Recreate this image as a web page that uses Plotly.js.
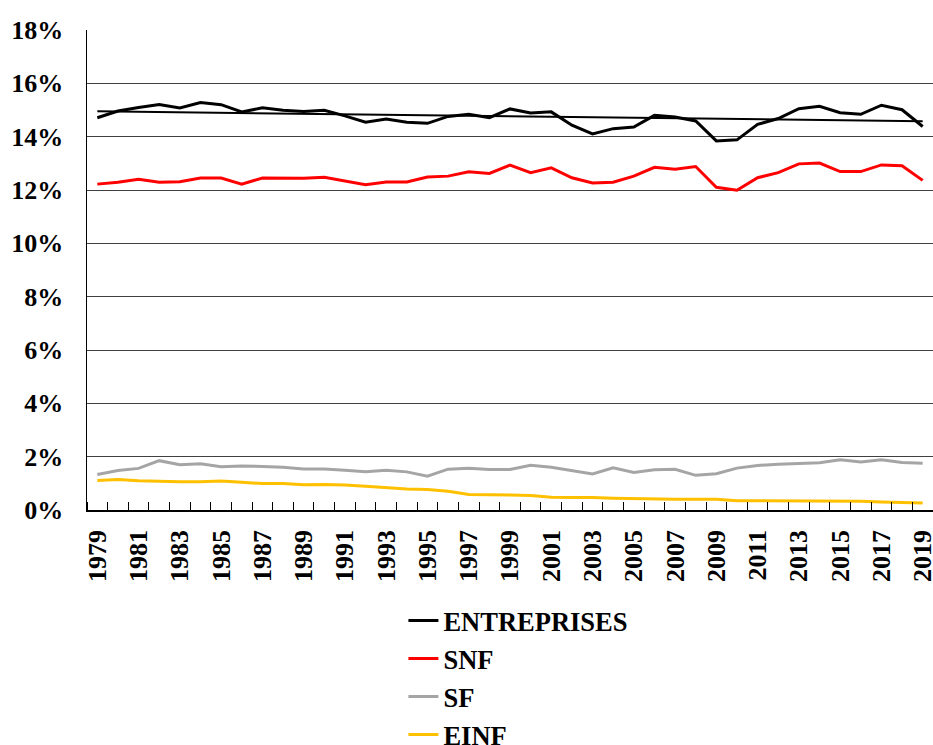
<!DOCTYPE html>
<html>
<head>
<meta charset="utf-8">
<script src="https://cdn.plot.ly/plotly-3.0.1.min.js"></script>
<style>
  html, body { margin: 0; padding: 0; background: #fff; }
  #chart { width: 933px; height: 745px; }
</style>
</head>
<body>
<div id="chart"></div>
<script>
const years = [1979,1980,1981,1982,1983,1984,1985,1986,1987,1988,1989,1990,1991,1992,1993,1994,1995,1996,1997,1998,1999,
               2000,2001,2002,2003,2004,2005,2006,2007,2008,2009,2010,2011,2012,2013,2014,2015,2016,2017,2018,2019];

const entreprises = [14.71,14.96,15.09,15.21,15.08,15.28,15.20,14.93,15.08,14.99,14.94,14.99,14.78,14.54,14.66,14.54,14.50,14.76,14.84,14.71,15.04,
                     14.89,14.93,14.43,14.10,14.30,14.36,14.80,14.74,14.59,13.84,13.88,14.46,14.68,15.05,15.14,14.90,14.84,15.18,15.01,14.38];

const snf = [12.22,12.29,12.40,12.29,12.31,12.45,12.45,12.22,12.45,12.44,12.44,12.48,12.33,12.20,12.30,12.30,12.49,12.52,12.68,12.62,12.93,
             12.65,12.83,12.46,12.26,12.29,12.52,12.85,12.78,12.88,12.10,11.99,12.46,12.65,12.98,13.01,12.69,12.69,12.94,12.91,12.36];

const sf = [1.33,1.48,1.56,1.85,1.70,1.73,1.62,1.65,1.63,1.60,1.54,1.54,1.49,1.43,1.49,1.43,1.27,1.53,1.57,1.52,1.52,
            1.68,1.60,1.48,1.35,1.58,1.41,1.51,1.53,1.30,1.36,1.57,1.67,1.72,1.74,1.77,1.88,1.80,1.88,1.78,1.75];

const einf = [1.11,1.14,1.10,1.07,1.06,1.06,1.09,1.04,0.99,0.99,0.95,0.96,0.94,0.89,0.84,0.79,0.77,0.70,0.58,0.58,0.56,
              0.54,0.48,0.47,0.47,0.44,0.42,0.41,0.40,0.40,0.40,0.35,0.35,0.33,0.33,0.33,0.33,0.33,0.30,0.28,0.26];

// Linear trend of ENTREPRISES (start and end)
const trendYears = [1979, 2019];
const trendValues = [14.95, 14.58];

const xTickVals = [1979,1981,1983,1985,1987,1989,1991,1993,1995,1997,1999,2001,2003,2005,2007,2009,2011,2013,2015,2017,2019];
const xTickText = ['1979','1981','1983','1985','1987','1989','1991','1993','1995','1997','1999','2001','2003','2005','2007','2009','2011','2013','2015','2017','2019'];

const FONT = 'Liberation Serif';

const traces = [
  {x: years, y: entreprises, name: 'ENTREPRISES', type: 'scatter', mode: 'lines',
   line: {color: '#000000', width: 3}, legendgroup: 'a'},
  {x: years, y: snf, name: 'SNF', type: 'scatter', mode: 'lines',
   line: {color: '#FF0000', width: 3}, legendgroup: 'b'},
  {x: years, y: sf, name: 'SF', type: 'scatter', mode: 'lines',
   line: {color: '#A5A5A5', width: 3}, legendgroup: 'c'},
  {x: years, y: einf, name: 'EINF', type: 'scatter', mode: 'lines',
   line: {color: '#FFC000', width: 3}, legendgroup: 'd'},
  {x: trendYears, y: trendValues, name: 'Tendance', type: 'scatter', mode: 'lines',
   line: {color: '#000000', width: 2}, showlegend: false, hoverinfo: 'skip'}
];

const layout = {
  width: 933, height: 745,
  margin: {l: 87, r: 0, t: 30, b: 235, pad: 0, autoexpand: false},
  paper_bgcolor: '#ffffff', plot_bgcolor: '#ffffff',
  font: {family: FONT, color: '#000', size: 26},
  showlegend: true,
  legend: {
    x: 0.374, y: -0.181, xanchor: 'left', yanchor: 'top',
    orientation: 'v', traceorder: 'grouped', tracegroupgap: 0.5,
    font: {family: FONT, size: 26.5, color: '#000', weight: 'bold'},
    bgcolor: 'rgba(0,0,0,0)', borderwidth: 0
  },
  xaxis: {
    type: 'linear', range: [1978.5, 2019.5], automargin: false,
    tickmode: 'array', tickvals: xTickVals, ticktext: xTickText,
    tickangle: -90, ticks: '', ticklabelstandoff: 8, ticklabeloverflow: 'allow',
    tickfont: {family: FONT, size: 26, color: '#000', weight: 'bold'},
    showgrid: false, zeroline: false,
    showline: true, linecolor: '#000', linewidth: 1.5,
    minor: {tickmode: 'linear', tick0: 1978.5, dtick: 1, ticks: 'inside',
            ticklen: 8, tickcolor: '#000', tickwidth: 1, showgrid: false},
    fixedrange: true
  },
  yaxis: {
    range: [0, 18], dtick: 2, tick0: 0, ticksuffix: '%', automargin: false,
    ticks: '', ticklabelstandoff: 17,
    tickfont: {family: FONT, size: 26, color: '#000', weight: 'bold'},
    showgrid: true, gridcolor: '#404040', gridwidth: 1,
    zeroline: false, showline: true, linecolor: '#000', linewidth: 1.5,
    fixedrange: true
  }
};

Plotly.newPlot('chart', traces, layout, {displayModeBar: false, staticPlot: true});
</script>
</body>
</html>
